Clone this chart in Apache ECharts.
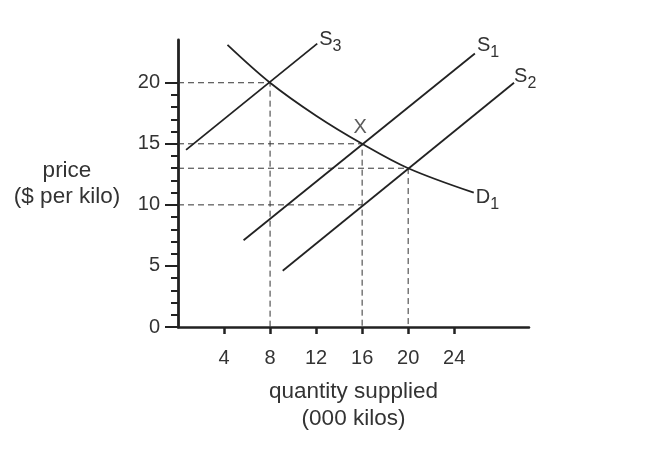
<!DOCTYPE html>
<html><head><meta charset="utf-8">
<script src="https://cdn.jsdelivr.net/npm/echarts@6/dist/echarts.min.js"></script>
<style>html,body{margin:0;padding:0;background:#fff}#c{width:650px;height:450px}</style>
</head><body><div id="c"></div>
<script>
const xTicks = [4, 8, 12, 16, 20, 24];
const yTicks = [0, 5, 10, 15, 20];
const yMinorTicks = [1, 2, 3, 4, 6, 7, 8, 9, 11, 12, 13, 14, 16, 17, 18, 19];
const S1 = [[5.7, 7.1], [25.8, 22.4]];
const S2 = [[9.1, 4.6], [29.2, 20.0]];
const S3 = [[0.7, 14.5], [12.1, 23.2]];
const D1 = [[4.3, 23.1], [8, 20], [12, 17.3], [16, 15], [20, 13], [25.7, 11]];
const guides = [
  [[0, 20], [8, 20], [8, 0]],
  [[0, 15], [16, 15], [16, 0]],
  [[0, 13], [20, 13], [20, 0]],
  [[0, 10], [16, 10]]
];
const pointX = [16, 15];

const FONT = 'Liberation Sans, Arial, sans-serif';
const INK = '#222';
const TXT = '#333';
const rich = {
  s: {fontSize: 20, color: TXT, fontFamily: FONT},
  n: {fontSize: 16, color: TXT, fontFamily: FONT, padding: [14, 0, 0, 0]}
};
function curve(data, main, sub, offset, smooth) {
  return {
    type: 'line', data: data, symbol: 'none', smooth: smooth || false,
    lineStyle: {color: INK, width: 1.8}, z: 5, silent: true,
    endLabel: {show: true, distance: 2, offset: offset, formatter: '{s|' + main + '}{n|' + sub + '}', rich: rich}
  };
}
const series = [];
guides.forEach(g => series.push({
  type: 'line', data: g, symbol: 'none', silent: true,
  lineStyle: {color: '#333', width: 1, type: [6, 4]}, z: 2
}));
series.push(curve(S3, 'S', '3', [0, -4]));
series.push(curve(S1, 'S', '1', [0, -8]));
series.push(curve(S2, 'S', '2', [-2, -6]));
series.push(curve(D1, 'D', '1', [0, 5], 0.35));
series.push({
  type: 'scatter', data: [pointX], symbolSize: 0, silent: true,
  label: {show: true, position: 'top', distance: 6, offset: [-2, 0], formatter: 'X', fontSize: 20, color: TXT, fontFamily: FONT}
});

const chart = echarts.init(document.getElementById('c'));
chart.setOption({
  animation: false,
  backgroundColor: '#fff',
  grid: {left: 178, right: 121, top: 40, bottom: 123, containLabel: false},
  xAxis: {
    type: 'value', min: 0, max: 30.5, interval: 4,
    axisLine: {show: true, onZero: false, lineStyle: {color: INK, width: 2.5}},
    axisTick: {show: true, length: 7, customValues: xTicks, lineStyle: {color: INK, width: 2.5}},
    axisLabel: {customValues: xTicks, margin: 21, fontSize: 20, color: TXT, fontFamily: FONT},
    splitLine: {show: false},
    name: 'quantity supplied\n(000 kilos)', nameLocation: 'middle', nameGap: 51,
    nameTextStyle: {fontSize: 22.5, color: TXT, fontFamily: FONT, lineHeight: 27, verticalAlign: 'top'}
  },
  yAxis: [{
    type: 'value', min: 0, max: 23.5, interval: 5,
    axisLine: {show: true, onZero: false, lineStyle: {color: INK, width: 2.8}},
    axisTick: {show: true, length: 13, customValues: yTicks, lineStyle: {color: INK, width: 2}},
    axisLabel: {customValues: yTicks, margin: 18, fontSize: 20, color: TXT, fontFamily: FONT},
    splitLine: {show: false},
    name: 'price\n($ per kilo)', nameLocation: 'middle', nameRotate: 0, nameGap: 111,
    nameTextStyle: {fontSize: 22.5, color: TXT, fontFamily: FONT, lineHeight: 26, align: 'center'}
  }, {
    type: 'value', min: 0, max: 23.5, interval: 5, position: 'left', offset: 0,
    axisLine: {show: false},
    axisTick: {show: true, length: 7, customValues: yMinorTicks, lineStyle: {color: INK, width: 2}},
    axisLabel: {show: false},
    splitLine: {show: false}
  }],
  series: series
});
</script></body></html>
